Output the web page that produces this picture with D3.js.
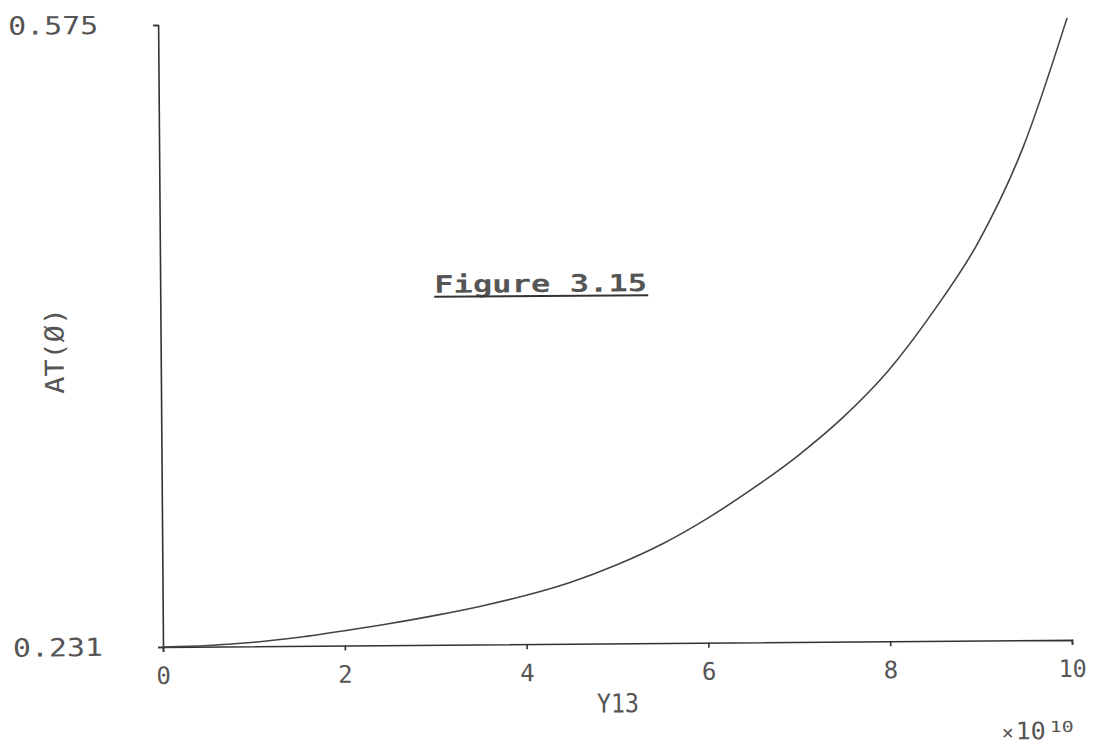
<!DOCTYPE html>
<html>
<head>
<meta charset="utf-8">
<script src="https://cdn.jsdelivr.net/npm/d3@7"></script>
<style>
  html, body { margin: 0; padding: 0; background: #fff; }
  svg { display: block; }
  text { font-family: "DejaVu Sans Mono", monospace; fill: #555; }
</style>
</head>
<body>
<svg id="chart" width="1094" height="746"></svg>
<script>
// ---- data ----
const xValues = [0, 0.5, 1, 1.5, 2, 2.5, 3, 3.5, 4, 4.5, 5, 5.5, 6, 6.5, 7, 7.5, 8, 8.5, 9, 9.5, 10];
const yValues = [0.2310, 0.2316, 0.2332, 0.2358, 0.2392, 0.2430, 0.2473, 0.2522, 0.2580, 0.2652, 0.2745, 0.2858, 0.2998, 0.3160, 0.3340, 0.3550, 0.3805, 0.4130, 0.4510, 0.5030, 0.5750];
const xTicks = [0, 2, 4, 6, 8, 10];
const xTickLabels = ["0", "2", "4", "6", "8", "10"];
const yTicks = [0.231, 0.575];
const yTickLabels = ["0.231", "0.575"];
const xTitle = "Y13";
const yTitle = "AT(\u00D8)";
const figTitle = "Figure 3.15";
const multTimes = "\u00D7";
const multBase = "10";
const multExp = "10";

// ---- layout ----
const svg = d3.select("#chart");
const x0 = 163, x1 = 1072, yBottom = 647, yTop = 25;
const x = d3.scaleLinear().domain([0, 10]).range([x0, x1]);
const y = d3.scaleLinear().domain([0.231, 0.575]).range([yBottom, yTop]);

// whole scanned plot is slightly rotated
const g = svg.append("g").attr("transform", `rotate(-0.45, ${x0}, ${yBottom})`);

// y axis
const yAxis = d3.axisLeft(y)
  .tickValues(yTicks)
  .tickFormat((d, i) => yTickLabels[i])
  .tickSize(5).tickSizeOuter(5).tickPadding(55);
const ya = g.append("g").attr("transform", `translate(${x0},0)`).call(yAxis);
ya.selectAll("path, line").attr("stroke", "#333").attr("stroke-width", 1.6);
ya.selectAll("text")
  .style("font-size", "25px")
  .attr("font-family", null)
  .attr("textLength", 90).attr("lengthAdjust", "spacingAndGlyphs")
  .attr("fill", "#555");

// x axis
const xAxis = d3.axisBottom(x)
  .tickValues(xTicks)
  .tickFormat((d, i) => xTickLabels[i])
  .tickSize(5).tickSizeOuter(5).tickPadding(15);
const xa = g.append("g").attr("transform", `translate(0,${yBottom})`).call(xAxis);
xa.selectAll("path, line").attr("stroke", "#333").attr("stroke-width", 1.6);
xa.selectAll("text")
  .style("font-size", "24px")
  .attr("font-family", null)
  .attr("fill", "#555")
  .each(function(d, i) {
    if (xTickLabels[i].length > 1) d3.select(this).attr("textLength", 28).attr("lengthAdjust", "spacingAndGlyphs");
  });

// curve
const data = xValues.map((v, i) => [v, yValues[i]]);
const line = d3.line().x(d => x(d[0])).y(d => y(d[1])).curve(d3.curveMonotoneX);
g.append("path")
  .datum(data)
  .attr("d", line)
  .attr("fill", "none")
  .attr("stroke", "#444")
  .attr("stroke-width", 1.6);

// axis titles
g.append("text")
  .attr("x", (x0 + x1) / 2).attr("y", 716)
  .attr("text-anchor", "middle")
  .style("font-size", "26px")
  .attr("textLength", 42).attr("lengthAdjust", "spacingAndGlyphs")
  .text(xTitle);

g.append("text")
  .attr("transform", "translate(66,350) rotate(-90)")
  .attr("text-anchor", "middle")
  .style("font-size", "26px")
  .attr("textLength", 86).attr("lengthAdjust", "spacingAndGlyphs")
  .text(yTitle);

// multiplier
g.append("text").attr("x", 1001).attr("y", 746)
  .style("font-size", "20px").text(multTimes);
g.append("text").attr("x", 1015).attr("y", 746)
  .style("font-size", "24px")
  .attr("textLength", 30).attr("lengthAdjust", "spacingAndGlyphs")
  .text(multBase);
g.append("text").attr("x", 1049).attr("y", 739)
  .style("font-size", "15px")
  .attr("textLength", 24).attr("lengthAdjust", "spacingAndGlyphs")
  .text(multExp);

// figure title with underline
g.append("text")
  .attr("x", 437).attr("y", 295)
  .style("font-size", "24px")
  .style("font-weight", "bold")
  .attr("fill", "#333")
  .attr("textLength", 213).attr("lengthAdjust", "spacingAndGlyphs")
  .text(figTitle);
g.append("line")
  .attr("x1", 437).attr("x2", 651)
  .attr("y1", 299).attr("y2", 299)
  .attr("stroke", "#333").attr("stroke-width", 2);
</script>
</body>
</html>
